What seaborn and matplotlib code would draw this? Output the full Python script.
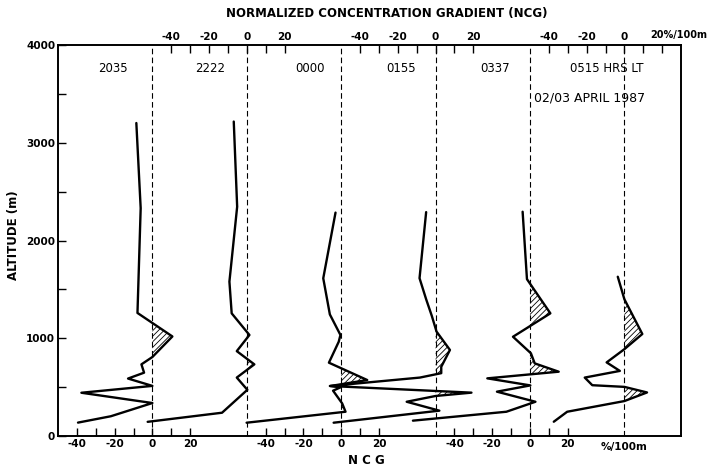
import matplotlib
matplotlib.use("Agg")
import numpy as np
import pandas as pd
import matplotlib.pyplot as plt
import seaborn as sns

# =========================================
# DATA
# =========================================

times = ["2035", "2222", "0000", "0155", "0337", "0515"]

# each profile is shifted by 50 NCG units along the x axis
offsets = [0, 50, 100, 150, 200, 250]

ncg_2035 = [-8.5, -6.2, -7.9, 10.6, 0, -5.8, -4.4, -12.9, 0, -37.6, 0, -22, -39.4]
alt_2035 = [3200, 2330, 1260, 1020, 810, 735, 650, 590, 515, 445, 340, 205, 140]

ncg_2222 = [-6.9, -5.1, -9.2, -8.0, 1.4, -5.3, 4.0, -5.3, 0.3, -13.1, -52.5]
alt_2222 = [3215, 2345, 1580, 1256, 1035, 870, 735, 600, 475, 241, 148]

ncg_0000 = [-3.0, -9.5, -6.0, -0.4, -1.3, -6.5, 13.8, -5.7, -0.4, -4.3, 0.5, 2.3, -50.1]
alt_0000 = [2285, 1614, 1245, 1035, 966, 752, 575, 514, 500, 466, 337, 251, 139]

ncg_0155 = [-5.0, -8.5, -5.0, -2.0, 0.5, 7.6, 3.0, 3.0, -8.3, -56, 19, 0, -15.3, 2.0, -54]
alt_0155 = [2290, 1615, 1400, 1230, 1070, 882, 710, 645, 600, 514, 446, 412, 353, 262, 139]

ncg_0337 = [-3.9, -1.6, 10.8, -9.0, 0.5, 2.5, 15.2, -22.6, 0.2, -17.5, 2.9, -12.5, -62]
alt_0337 = [2294, 1605, 1256, 1017, 848, 745, 660, 592, 520, 456, 353, 251, 160]

ncg_0515 = [-3.5, 0, 9.5, 0, -9.4, -2.4, -21, -17, 0, 12, 0, -30.3, -37.4]
alt_0515 = [1630, 1400, 1045, 890, 755, 668, 600, 522, 505, 448, 360, 251, 149]

profiles = [
    (ncg_2035, alt_2035),
    (ncg_2222, alt_2222),
    (ncg_0000, alt_0000),
    (ncg_0155, alt_0155),
    (ncg_0337, alt_0337),
    (ncg_0515, alt_0515),
]

tick_vals = [-40, -20, 0, 20]
minor_vals = [-30, -10, 10]

# =========================================
# DATAFRAME
# =========================================

rows = []
for t, off, (ncg, alt) in zip(times, offsets, profiles):
    for g, a in zip(ncg, alt):
        rows.append({"time": t, "ncg": g, "alt": a, "x": g + off})
df = pd.DataFrame(rows)

# =========================================
# STYLE
# =========================================

sns.set_theme(style="ticks")
plt.rcParams["font.family"] = ["DejaVu Sans"]
plt.rcParams["hatch.linewidth"] = 0.6
plt.rcParams["text.color"] = "black"
plt.rcParams["xtick.labelcolor"] = "black"
plt.rcParams["ytick.labelcolor"] = "black"

fig = plt.figure(figsize=(7.08, 4.68), dpi=100)
ax = fig.add_axes([0.0819, 0.0677, 0.880, 0.8368])

# zero lines of every profile
for off in offsets:
    ax.axvline(off, color="black", lw=0.8, ls=(0, (5, 3)), zorder=1)

sns.lineplot(
    data=df, x="x", y="alt", units="time", estimator=None, sort=False,
    color="black", linewidth=1.7, ax=ax, legend=False, zorder=3
)

# hatched positive gradients
for off, (ncg, alt) in zip(offsets, profiles):
    g = np.array(ncg)
    a = np.array(alt)
    ax.fill_betweenx(
        a, off, g + off, where=g > 0, interpolate=True,
        facecolor="none", edgecolor="black", hatch="//////", linewidth=0, zorder=2
    )

# =========================================
# AXES
# =========================================

ax.set_xlim(-50, 280)
ax.set_ylim(0, 4000)

ax.set_yticks([0, 1000, 2000, 3000, 4000])
ax.set_yticklabels(["0", "1000", "2000", "3000", "4000"], fontsize=7.5, fontweight="bold")
ax.set_yticks([500, 1500, 2500, 3500], minor=True)

bottom_groups = [0, 100, 200]
ax.set_xticks([v + o for o in bottom_groups for v in tick_vals])
ax.set_xticklabels([str(v) for o in bottom_groups for v in tick_vals], fontsize=7.5, fontweight="bold")
ax.set_xticks([v + o for o in bottom_groups for v in minor_vals], minor=True)

ax.tick_params(which="both", direction="in", length=6, width=1, color="black", pad=2)
ax.set_xlabel("")
ax.set_ylabel("")
for s in ax.spines.values():
    s.set_linewidth(1.2)
    s.set_color("black")

ax2 = ax.twiny()
ax2.set_xlim(ax.get_xlim())
top_groups = [50, 150, 250]
top_labels = [str(v) for o in top_groups for v in tick_vals]
top_labels[-1] = ""  # drawn below together with the unit
ax2.set_xticks([v + o for o in top_groups for v in tick_vals])
ax2.set_xticklabels(top_labels, fontsize=7.5, fontweight="bold")
ax2.set_xticks([v + o for o in top_groups for v in minor_vals], minor=True)
ax2.tick_params(which="both", direction="in", length=6, width=1, color="black", pad=2)
for s in ax2.spines.values():
    s.set_linewidth(1.2)
    s.set_color("black")

ax.text(250, -0.028, "%/100m", transform=ax.get_xaxis_transform(),
        ha="center", va="center", fontsize=7.5, fontweight="bold")
ax.text(263.5, 1.024, "20%/100m", transform=ax.get_xaxis_transform(),
        ha="left", va="center", fontsize=7, fontweight="bold")

# =========================================
# TEXTS
# =========================================

time_x = [-20.8, 30.8, 83.6, 131.9, 181.3]
for t, xx in zip(times[:5], time_x):
    ax.text(xx, 3760, t, ha="center", va="center", fontsize=8.5)
ax.text(240.7, 3760, "0515 HRS LT", ha="center", va="center", fontsize=8.5)
ax.text(231.7, 3455, "02/03 APRIL 1987", ha="center", va="center", fontsize=9)

fig.text(387 / 708, 1 - 14 / 468, "NORMALIZED CONCENTRATION GRADIENT (NCG)",
         ha="center", va="center", fontsize=8.5, fontweight="bold")
fig.text(366 / 708, 1 - 461 / 468, "N C G", ha="center", va="center",
         fontsize=8.5, fontweight="bold")
fig.text(14 / 708, 1 - 235 / 468, "ALTITUDE (m)", rotation=90, ha="center",
         va="center", fontsize=8.5, fontweight="bold")

fig.savefig("out.png", dpi=100)
